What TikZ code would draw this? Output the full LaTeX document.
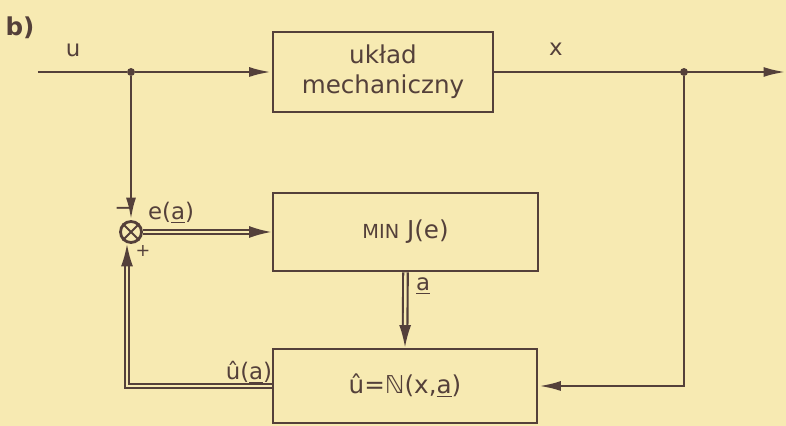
\documentclass[tikz,border=0pt]{standalone}
\usepackage{fontspec}
\setmainfont{DejaVu Sans}
\usepackage{tikz}
\usetikzlibrary{arrows.meta,positioning,calc}
\usepackage{xcolor}
\definecolor{paper}{RGB}{247,234,178}
\definecolor{ink}{RGB}{84,64,58}

\begin{document}
\begin{tikzpicture}[
    blk/.style={rectangle, draw=ink, line width=1.6pt, font=\fontsize{14}{17}\selectfont,
        text=ink, align=center, inner sep=0pt},
    sig/.style={-{Latex[length=4.5mm, width=2mm]}, draw=ink, line width=1.6pt},
    vec/.style={-{Latex[length=4.5mm, width=2.4mm]}, draw=ink, line width=1.2pt,
        double=paper, double distance=1.4pt},
    dot/.style={circle, fill=ink, minimum size=4.5pt, inner sep=0pt},
    lab/.style={font=\fontsize{13}{15}\selectfont, text=ink, inner sep=1pt}
]
    \useasboundingbox (0,0) rectangle (15.72,8.52);
    \fill[paper] (0,0) rectangle (15.72,8.52);

    \node[font=\bfseries\fontsize{14}{16}\selectfont, text=ink] (tag) at (0.40,7.96) {b)};

    % blocks
    \node[blk, minimum width=4.4cm, minimum height=1.6cm] (mech) at (7.66,7.08) {układ\\mechaniczny};
    \node[blk, minimum width=5.3cm, minimum height=1.56cm] (minj) at (8.11,3.88) {{\fontsize{11}{13}\selectfont MIN} J(e)};
    \node[blk, minimum width=5.28cm, minimum height=1.48cm] (model) at (8.10,0.80) {û=ℕ(x,\underline{a})};

    \node[circle, draw=ink, line width=1.6pt, minimum size=0.42cm, inner sep=0pt] (sum) at (2.62,3.88) {};
    \draw[ink, line width=1.1pt] (sum.north west) -- (sum.south east) (sum.north east) -- (sum.south west);

    \coordinate (in) at (0.76,7.08);
    \node[dot] (j1) at (2.62,7.08) {};
    \node[dot] (j2) at (13.68,7.08) {};
    \coordinate (out) at (15.72,7.08);
    \coordinate (turn) at (13.68,0.80);
    \coordinate (back) at (2.54,0.80);

    % signal paths
    \draw[ink, line width=1.6pt] (in) -- (j1);
    \draw[sig] (j1) -- (mech.west);
    \draw[sig] (mech.east) -- (out);
    \draw[sig] (j1) -- (sum.north);
    \draw[vec] (sum.east) -- (minj.west);
    \draw[vec] (minj.south) -- (model.north);
    \draw[sig] (j2) -- (turn) -- (model.east);
    \draw[vec] (model.west) -- (back) -- (back |- sum.south);

    % labels
    \node[lab] (lu) at (1.46,7.52) {u};
    \node[lab] (lx) at (11.12,7.54) {x};
    \node[lab] (le) at (3.42,4.26) {e(\underline{a})};
    \node[lab] (lminus) at (2.48,4.30) {−};
    \node[lab, font=\fontsize{10}{12}\selectfont] (lplus) at (2.86,3.50) {+};
    \node[lab] (la) at (8.46,2.80) {\underline{a}};
    \node[lab] (lu2) at (4.98,1.08) {û(\underline{a})};
\end{tikzpicture}
\end{document}
